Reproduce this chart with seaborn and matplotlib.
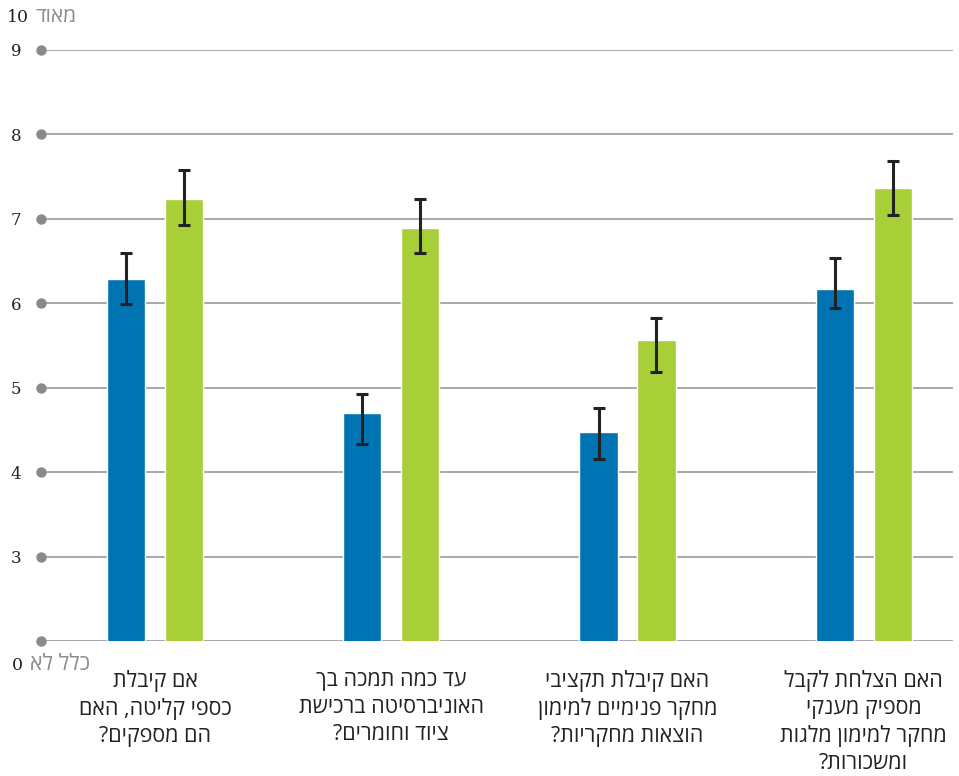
"""Grouped bar chart with asymmetric error bars (Hebrew survey questions)."""

import matplotlib

matplotlib.use("Agg")
import matplotlib.pyplot as plt
import pandas as pd
import seaborn as sns

# Questions, one per group (logical Hebrew order, one entry per line)
QUESTIONS = [
    ["אם קיבלת", "כספי קליטה, האם", "הם מספקים?"],
    ["עד כמה תמכה בך", "האוניברסיטה ברכישת", "ציוד וחומרים?"],
    ["האם קיבלת תקציבי", "מחקר פנימיים למימון", "הוצאות מחקריות?"],
    ["האם הצלחת לקבל", "מספיק מענקי", "מחקר למימון מלגות", "ומשכורות?"],
]
SERIES = ["series_a", "series_b"]

# mean scores and error-bar ends
BLUE_MEAN = [6.29, 4.70, 4.47, 6.17]
BLUE_LOW = [5.99, 4.33, 4.16, 5.94]
BLUE_HIGH = [6.60, 4.93, 4.76, 6.54]

GREEN_MEAN = [7.23, 6.89, 5.57, 7.37]
GREEN_LOW = [6.93, 6.59, 5.19, 7.04]
GREEN_HIGH = [7.58, 7.24, 5.83, 7.69]

Y_TICKS = [2, 3, 4, 5, 6, 7, 8, 9]
Y_TICK_LABELS = ["", "3", "4", "5", "6", "7", "8", "9"]
TOP_NUM, TOP_WORD = "10", "מאוד"
BOTTOM_NUM, BOTTOM_WORD = "0", "כלל לא"

COLORS = {"series_a": "#0073b3", "series_b": "#a8ce38"}
HEB_FONT = ["Open Sans", "DejaVu Sans"]
NUM_FONT = ["DejaVu Serif"]


def visual(text: str) -> str:
    # matplotlib has no bidi support, so reverse RTL text for display
    return text[::-1]


sns.set_theme(style="white")

cats = [str(i) for i in range(len(QUESTIONS))]
df = pd.DataFrame(
    {
        "question": cats * 2,
        "series": [SERIES[0]] * len(cats) + [SERIES[1]] * len(cats),
        "score": BLUE_MEAN + GREEN_MEAN,
    }
)

fig = plt.figure(figsize=(9.59, 7.76), dpi=100)
ax = fig.add_axes([41 / 959, 135 / 776, 912 / 959, 591 / 776])

sns.barplot(
    data=df,
    x="question",
    y="score",
    hue="series",
    hue_order=SERIES,
    order=cats,
    palette=COLORS,
    saturation=1,
    width=0.49,
    gap=0.34,
    errorbar=None,
    legend=False,
    ax=ax,
    zorder=3,
)

# asymmetric error bars at each bar centre
for container, means, lows, highs in zip(
    ax.containers,
    [BLUE_MEAN, GREEN_MEAN],
    [BLUE_LOW, GREEN_LOW],
    [BLUE_HIGH, GREEN_HIGH],
):
    xs = [p.get_x() + p.get_width() / 2 for p in container.patches]
    lower = [m - lo for m, lo in zip(means, lows)]
    upper = [hi - m for m, hi in zip(means, highs)]
    ax.errorbar(
        xs, means, yerr=[lower, upper], fmt="none", ecolor="#222222",
        elinewidth=2.2, capsize=4.5, capthick=2.2, zorder=4,
    )

ax.set_xlim(-0.483, 3.378)
ax.set_ylim(2, 9)
ax.set_yticks(Y_TICKS)
ax.set_yticklabels(Y_TICK_LABELS, family=NUM_FONT, fontsize=12, color="#222222")
ax.tick_params(axis="y", length=0, pad=14)
ax.yaxis.grid(True, color="#a8a8a8", linewidth=1.4, zorder=0)
ax.set_axisbelow(True)

# grey dots at the left end of every grid line
ax.plot([-0.483] * len(Y_TICKS), Y_TICKS, "o", color="#8a8a8a",
        markersize=6.5, clip_on=False, zorder=5)

ax.set_xticks(range(len(cats)))
ax.set_xticklabels(
    ["\n".join(visual(line) for line in q) for q in QUESTIONS],
    family=HEB_FONT, fontsize=15.5, color="#222222",
    linespacing=1.36, multialignment="center",
)
ax.tick_params(axis="x", length=0, pad=21)
ax.set_xlabel("")
ax.set_ylabel("")
sns.despine(ax=ax, left=True, bottom=True)

# scale-end annotations above and below the axis
fig.text(29 / 959, 1 - 17 / 776, TOP_NUM, ha="right", va="center",
         family=NUM_FONT, fontsize=12.5, color="#222222")
fig.text(35 / 959, 1 - 17 / 776, visual(TOP_WORD), ha="left", va="center",
         family=HEB_FONT, fontsize=15, color="#8c8c8c")
fig.text(23 / 959, 1 - 665 / 776, BOTTOM_NUM, ha="right", va="center",
         family=NUM_FONT, fontsize=12.5, color="#222222")
fig.text(30 / 959, 1 - 665 / 776, visual(BOTTOM_WORD), ha="left", va="center",
         family=HEB_FONT, fontsize=15.5, color="#8c8c8c")

fig.savefig("out.png", dpi=100)
